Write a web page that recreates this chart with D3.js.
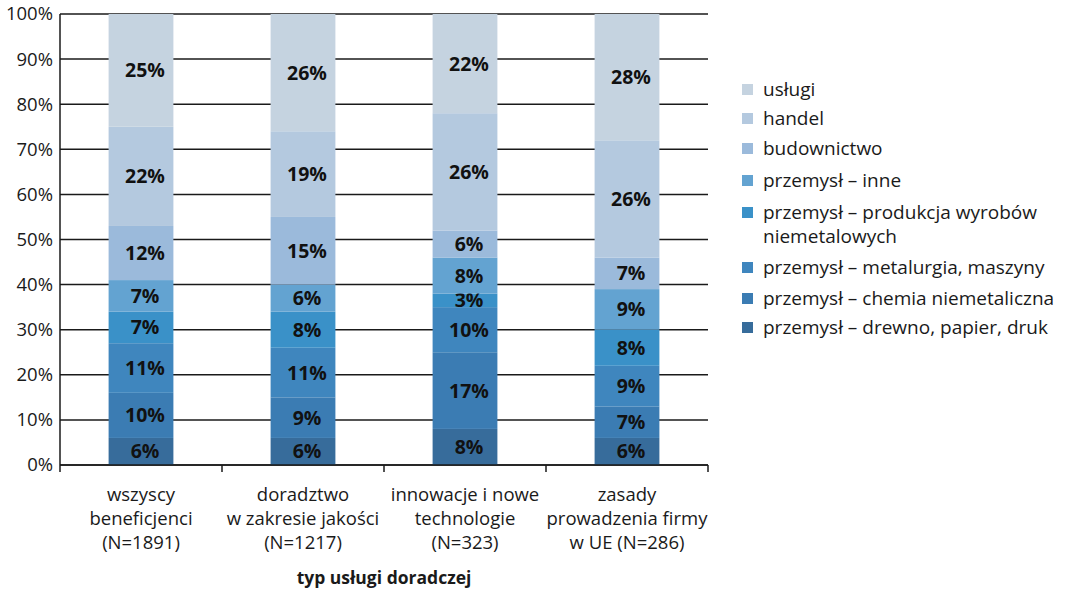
<!DOCTYPE html>
<html>
<head>
<meta charset="utf-8">
<script src="https://cdn.jsdelivr.net/npm/d3@7"></script>
<style>
  body { margin: 0; background: #fff; }
  svg text { font-family: "Open Sans", "Noto Sans", sans-serif; fill: #1a1a1a; }
</style>
</head>
<body>
<div id="chart"></div>
<script>
// categories (x axis), multi-line labels
const categories = ["wszyscy beneficjenci", "doradztwo w zakresie jakości", "innowacje i nowe technologie", "zasady prowadzenia firmy w UE"];
const categoryLines = [
  ["wszyscy", "beneficjenci", "(N=1891)"],
  ["doradztwo", "w zakresie jakości", "(N=1217)"],
  ["innowacje i nowe", "technologie", "(N=323)"],
  ["zasady", "prowadzenia firmy", "w UE (N=286)"]
];

// series, bottom to top
const seriesNames = [
  "przemysł – drewno, papier, druk",
  "przemysł – chemia niemetaliczna",
  "przemysł – metalurgia, maszyny",
  "przemysł – produkcja wyrobów niemetalowych",
  "przemysł – inne",
  "budownictwo",
  "handel",
  "usługi"
];
const drewno      = [6, 6, 8, 6];
const chemia      = [10, 9, 17, 7];
const metalurgia  = [11, 11, 10, 9];
const produkcja   = [7, 8, 3, 8];
const inne        = [7, 6, 8, 9];
const budownictwo = [12, 15, 6, 7];
const handel      = [22, 19, 26, 26];
const uslugi      = [25, 26, 22, 28];
const seriesValues = [drewno, chemia, metalurgia, produkcja, inne, budownictwo, handel, uslugi];

const colors = ["#376c9b", "#3b7cb3", "#3f86be", "#3a91c8", "#63a3d1", "#9bbadb", "#b4c9df", "#c5d3e0"];

const yTicks = [0, 10, 20, 30, 40, 50, 60, 70, 80, 90, 100];

const width = 1067, height = 596;
const margin = { top: 14, left: 60, right: 359, bottom: 131 };
const plotW = width - margin.left - margin.right;
const plotH = height - margin.top - margin.bottom;

const svg = d3.select("#chart").append("svg")
  .attr("width", width)
  .attr("height", height);

const g = svg.append("g")
  .attr("transform", "translate(" + margin.left + "," + margin.top + ")");

const x = d3.scaleBand().domain(categories).range([0, plotW]).paddingInner(0.6).paddingOuter(0.3);
const xTicks = d3.scaleBand().domain(categories).range([0, plotW]);
const y = d3.scaleLinear().domain([0, 100]).range([plotH, 0]);

// build table for stack
const table = categories.map((c, i) => {
  const row = { cat: c };
  seriesNames.forEach((s, j) => { row[s] = seriesValues[j][i]; });
  return row;
});
const stacked = d3.stack().keys(seriesNames)(table);

// gridlines
g.append("g")
  .selectAll("line")
  .data(yTicks)
  .enter().append("line")
  .attr("x1", 0)
  .attr("x2", plotW)
  .attr("y1", d => y(d))
  .attr("y2", d => y(d))
  .style("stroke", "#1a1a1a")
  .style("stroke-width", 1.5);

// y labels
g.append("g")
  .selectAll("text")
  .data(yTicks)
  .enter().append("text")
  .attr("x", -7)
  .attr("y", d => y(d))
  .attr("dy", "0.35em")
  .style("text-anchor", "end")
  .style("font-size", "18.5px")
  .text(d => d + "%");

// bars
const layers = g.selectAll(".layer")
  .data(stacked)
  .enter().append("g")
  .attr("class", "layer")
  .style("fill", (d, i) => colors[i]);

layers.selectAll("rect")
  .data(d => d)
  .enter().append("rect")
  .attr("x", d => x(d.data.cat))
  .attr("width", x.bandwidth())
  .attr("y", d => y(d[1]))
  .attr("height", d => y(d[0]) - y(d[1]));

layers.selectAll("text")
  .data(d => d)
  .enter().append("text")
  .attr("x", d => x(d.data.cat) + x.bandwidth() / 2 + 4)
  .attr("y", d => (y(d[0]) + y(d[1])) / 2)
  .attr("dy", "0.36em")
  .style("text-anchor", "middle")
  .style("font-size", "19.5px")
  .style("font-weight", "bold")
  .style("fill", "#111")
  .text(d => (d[1] - d[0]) + "%");

// axes lines
g.append("line")
  .attr("x1", 0).attr("x2", 0)
  .attr("y1", 0).attr("y2", plotH)
  .style("stroke", "#1a1a1a").style("stroke-width", 1.5);

const xAxis = g.append("g")
  .attr("transform", "translate(0," + plotH + ")");
xAxis.append("line")
  .attr("x1", 0).attr("x2", plotW)
  .style("stroke", "#1a1a1a").style("stroke-width", 1.5);
xAxis.selectAll(".tick")
  .data(categories.concat(["end"]))
  .enter().append("line")
  .attr("x1", (d, i) => i < categories.length ? xTicks(d) : plotW)
  .attr("x2", (d, i) => i < categories.length ? xTicks(d) : plotW)
  .attr("y1", 0).attr("y2", 7)
  .style("stroke", "#1a1a1a").style("stroke-width", 1.5);

// category labels
categories.forEach((c, i) => {
  const t = xAxis.append("text")
    .attr("x", xTicks(c) + xTicks.bandwidth() / 2)
    .attr("y", 35.5)
    .style("text-anchor", "middle")
    .style("font-size", "18.5px");
  categoryLines[i].forEach((line, k) => {
    t.append("tspan")
      .attr("x", xTicks(c) + xTicks.bandwidth() / 2)
      .attr("dy", k === 0 ? 0 : 24)
      .text(line);
  });
});

// axis title
svg.append("text")
  .attr("x", margin.left + plotW / 2)
  .attr("y", 584)
  .style("text-anchor", "middle")
  .style("font-size", "17.5px")
  .style("font-weight", "bold")
  .text("typ usługi doradczej");

// legend (top to bottom reversed)
const legendItems = [
  { name: "usługi", lines: ["usługi"], y: 89 },
  { name: "handel", lines: ["handel"], y: 118 },
  { name: "budownictwo", lines: ["budownictwo"], y: 148 },
  { name: "przemysł – inne", lines: ["przemysł – inne"], y: 180 },
  { name: "przemysł – produkcja wyrobów niemetalowych", lines: ["przemysł – produkcja wyrobów", "niemetalowych"], y: 212 },
  { name: "przemysł – metalurgia, maszyny", lines: ["przemysł – metalurgia, maszyny"], y: 267 },
  { name: "przemysł – chemia niemetaliczna", lines: ["przemysł – chemia niemetaliczna"], y: 298 },
  { name: "przemysł – drewno, papier, druk", lines: ["przemysł – drewno, papier, druk"], y: 327 }
];

const legend = svg.append("g");
legendItems.forEach(item => {
  const idx = seriesNames.indexOf(item.name);
  legend.append("rect")
    .attr("x", 742)
    .attr("y", item.y - 5)
    .attr("width", 11)
    .attr("height", 11)
    .style("fill", colors[idx]);
  const t = legend.append("text")
    .attr("x", 763)
    .attr("y", item.y)
    .style("font-size", "19px");
  item.lines.forEach((line, k) => {
    t.append("tspan")
      .attr("x", 763)
      .attr("dy", k === 0 ? "0.35em" : 24)
      .text(line);
  });
});
</script>
</body>
</html>
